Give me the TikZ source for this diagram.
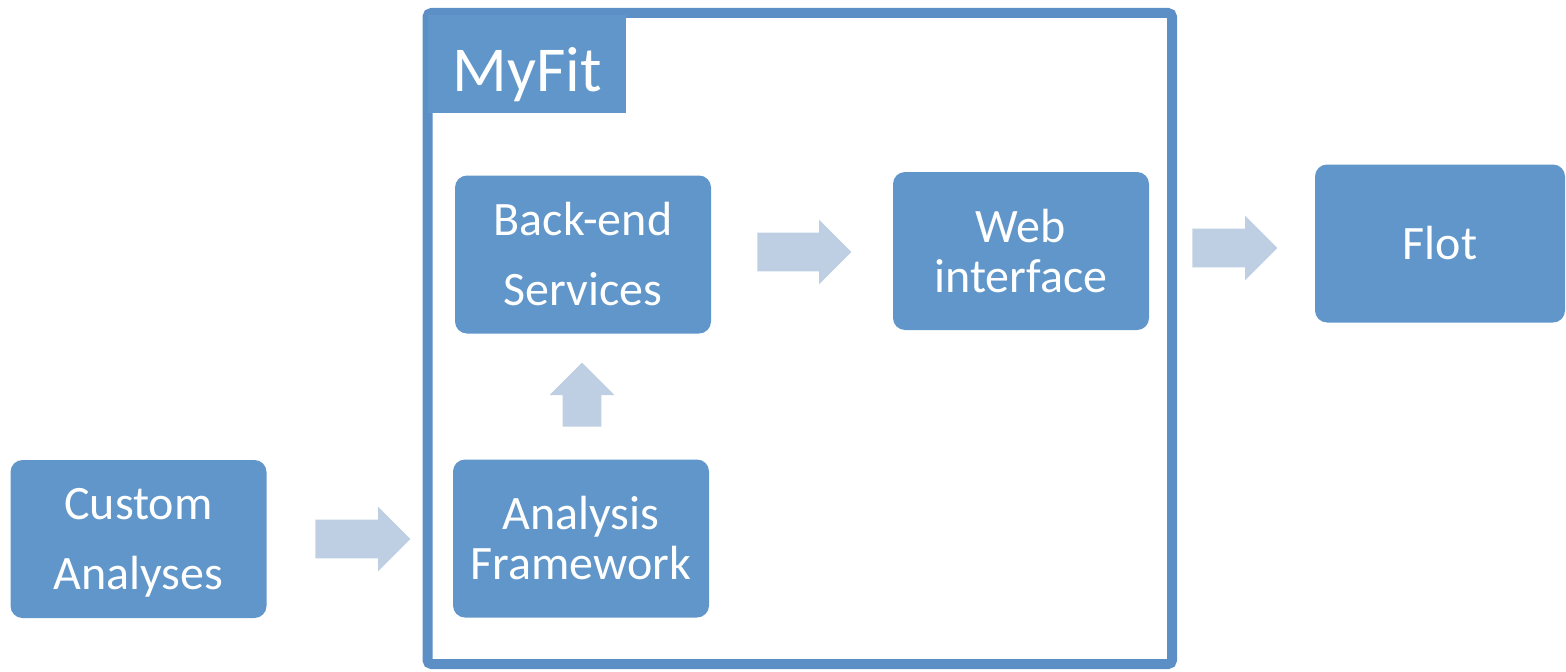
\documentclass[tikz,border=0pt]{standalone}
\usepackage{fontspec}
\setmainfont{Carlito}
\usetikzlibrary{shapes.arrows}
\definecolor{boxblue}{RGB}{96,150,201}
\definecolor{frameblue}{RGB}{91,143,198}
\definecolor{arrowblue}{RGB}{190,207,228}
\tikzset{
  unit/.style={rounded corners=6pt, fill=boxblue, text=white, align=center,
    minimum width=128pt, minimum height=79pt, inner sep=0pt,
    font=\fontsize{24}{35}\selectfont},
  tight/.style={font=\fontsize{24}{25}\selectfont},
  blockarr/.style={single arrow, fill=arrowblue, draw=none, inner xsep=0pt,
    inner ysep=9.5pt, single arrow head extend=6.5pt, anchor=tail}
}
\begin{document}
\begin{tikzpicture}[x=0.5pt,y=0.5pt]
      \useasboundingbox (0,0) rectangle (1566,671);
      % MyFit frame
      \draw[frameblue, line width=5pt, rounded corners=2pt]
        (427.5,7) rectangle (1172,658);
      \node[fill=boxblue, text=white, minimum width=99pt, minimum height=49pt,
        text height=27pt, text depth=0pt,
        font=\fontsize{32}{32}\selectfont, anchor=north west] (myfit) at (428,656) {MyFit};
      \node[unit, text depth=0pt] (custom) at (138.5,132) {Custom\\Analyses};
      \node[unit, tight] (framework) at (581,132.5) {Analysis\\Framework};
      \node[unit] (backend) at (583,416.5) {Back-end\\Services};
      \node[unit, tight] (web) at (1021,420) {Web\\interface};
      \node[unit, minimum width=125pt] (flot) at (1440,427.5) {Flot};
      % block arrows
      \node[blockarr, minimum height=47.5pt] (a1) at (315,132) {};
      \node[blockarr, minimum height=47pt] (a2) at (757,419) {};
      \node[blockarr, minimum height=42.5pt] (a3) at (1192,423) {};
      \node[blockarr, minimum height=32pt, rotate=90] (a4) at (582,244) {};
\end{tikzpicture}
\end{document}
